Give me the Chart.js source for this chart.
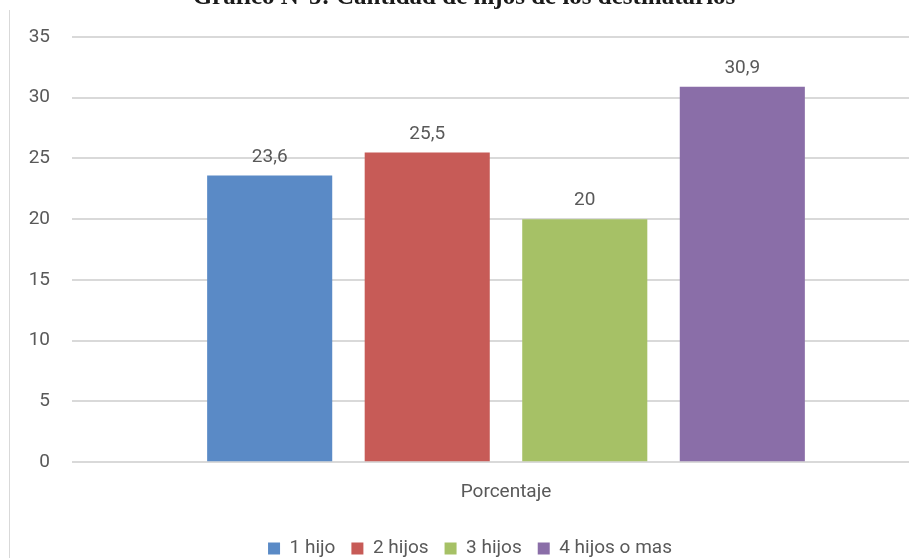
<!DOCTYPE html>
<html>
<head>
<meta charset="utf-8">
<script src="https://cdn.jsdelivr.net/npm/chart.js@4/dist/chart.umd.min.js"></script>
<style>
  html, body { margin: 0; padding: 0; background: #fff; overflow: hidden; }
  #wrap { position: relative; width: 909px; height: 558px; overflow: hidden; }
  #frame { position: absolute; left: 9px; top: 10px; width: 1px; height: 560px; background: #d9d9d9; }
  #title {
    position: absolute; left: 0; width: 928px; top: -18px; text-align: center;
    font: bold 25px "Liberation Serif", "DejaVu Serif", serif; color: #1a1a1a; white-space: nowrap;
  }
  #box { position: absolute; left: 0; top: 0; width: 940px; height: 558px; }
</style>
</head>
<body>
<div id="wrap">
  <div id="box"><canvas id="chart"></canvas></div>
  <div id="frame"></div>
  <div id="title">Gráfico N°5: Cantidad de hijos de los destinatarios</div>
</div>
<script>
// Data
const categories = ['Porcentaje'];
const seriesNames = ['1 hijo', '2 hijos', '3 hijos', '4 hijos o mas'];
const seriesValues = [23.6, 25.5, 20, 30.9];
const seriesColors = ['#5a8ac6', '#c75b57', '#a6c166', '#8a6ea8'];
const yTicks = [0, 5, 10, 15, 20, 25, 30, 35];

const FONT = '"Roboto", sans-serif';
const GREY = '#595959';

// Format numbers with comma decimal
function formatValue(v) {
    return String(v).replace('.', ',');
}

// Draw value labels above bars
const valueLabels = {
    id: 'valueLabels',
    afterDatasetsDraw(chart) {
        const ctx = chart.ctx;
        ctx.save();
        ctx.font = '19px ' + FONT;
        ctx.fillStyle = GREY;
        ctx.textAlign = 'center';
        ctx.textBaseline = 'bottom';
        chart.data.datasets.forEach((ds, i) => {
            chart.getDatasetMeta(i).data.forEach((bar, j) => {
                ctx.fillText(formatValue(ds.data[j]), bar.x, bar.y - 9);
            });
        });
        ctx.restore();
    }
};

const datasets = seriesNames.map((name, i) => ({
    label: name,
    data: [seriesValues[i]],
    backgroundColor: seriesColors[i],
    categoryPercentage: 0.726,
    barPercentage: 0.794
}));

new Chart(document.getElementById('chart'), {
    type: 'bar',
    data: { labels: categories, datasets: datasets },
    plugins: [valueLabels],
    options: {
        responsive: true,
        maintainAspectRatio: false,
        animation: false,
        layout: { padding: { top: 37, left: 0, right: 0, bottom: -10 } },
        scales: {
            x: {
                grid: { display: false, drawTicks: false },
                border: { display: false },
                ticks: { color: GREY, font: { family: FONT, size: 19 }, padding: 19 }
            },
            y: {
                min: 0,
                max: 35,
                afterBuildTicks: (scale) => { scale.ticks = yTicks.map(v => ({ value: v })); },
                afterFit: (scale) => { scale.width = 72; },
                grid: { color: '#d9d9d9', lineWidth: 2, drawTicks: false },
                border: { display: false },
                ticks: { color: GREY, font: { family: FONT, size: 19 }, padding: 22 }
            }
        },
        plugins: {
            legend: {
                position: 'bottom',
                labels: {
                    color: GREY,
                    font: { family: FONT, size: 19 },
                    boxWidth: 12,
                    boxHeight: 12,
                    padding: 16
                }
            },
            tooltip: { enabled: false }
        }
    }
});
</script>
</body>
</html>
